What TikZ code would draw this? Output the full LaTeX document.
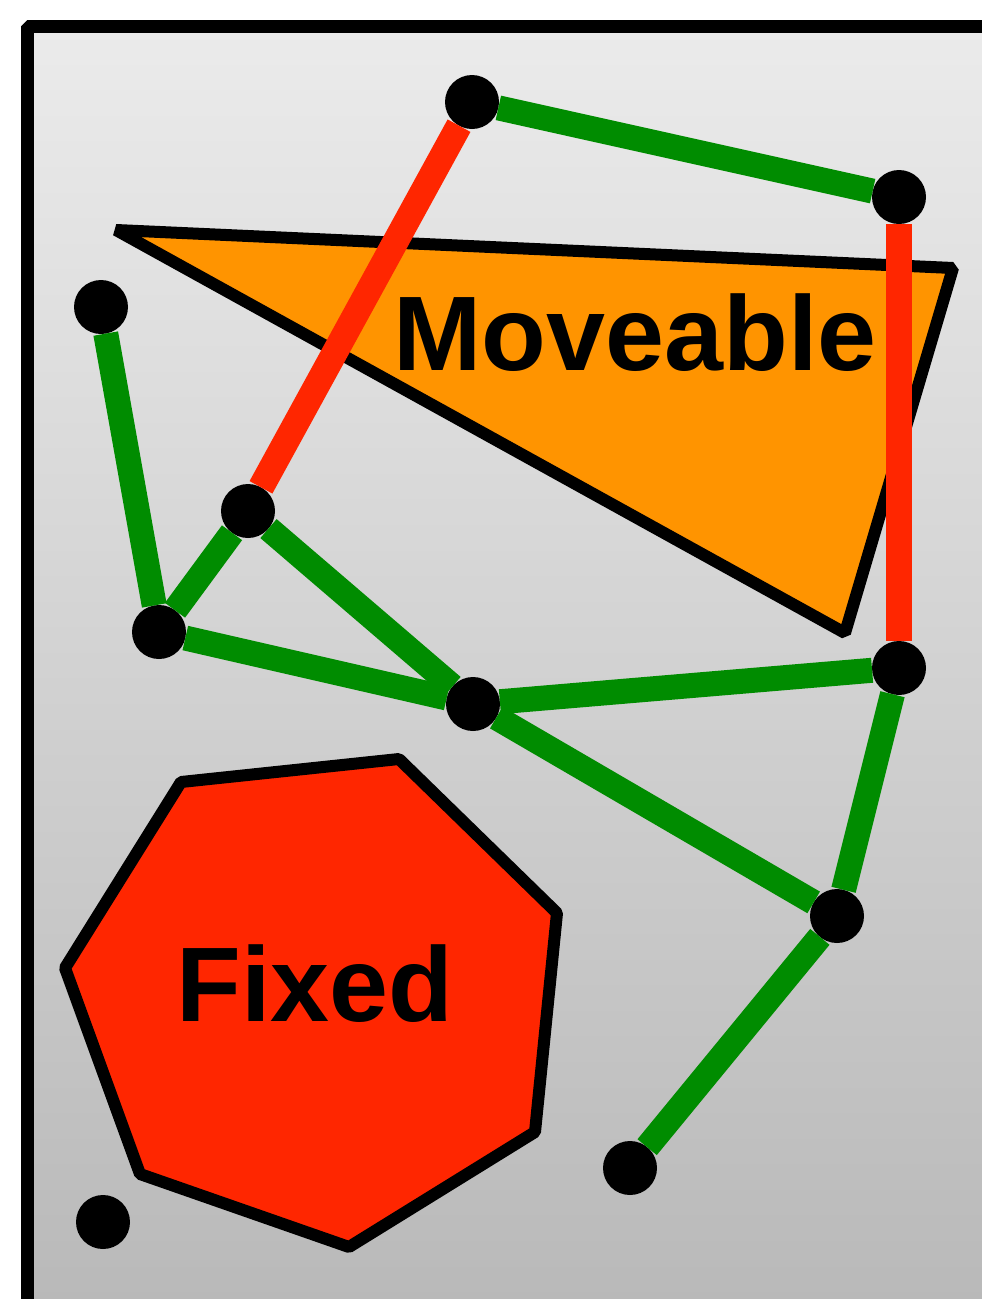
\documentclass[tikz,border=0pt]{standalone}
\usepackage{fontspec}
\setmainfont{Liberation Sans}
\definecolor{bgtop}{HTML}{EBEBEB}
\definecolor{bgbot}{HTML}{B8B8B8}
\definecolor{linkgreen}{HTML}{008C00}
\definecolor{linkred}{HTML}{FF2600}
\definecolor{movorange}{HTML}{FF9400}
\definecolor{fixred}{HTML}{FF2600}
\tikzset{
  joint/.style={circle, fill=black, minimum size=54pt, inner sep=0pt, outer sep=0pt},
  greenlink/.style={draw=linkgreen, line width=25pt, line cap=butt},
  redlink/.style={draw=linkred, line width=26pt, line cap=butt},
  body/.style={draw=black, line width=12pt, line join=bevel},
  bodylabel/.style={font=\fontsize{106}{110}\selectfont\bfseries, inner sep=0pt}
}
\begin{document}
\begin{tikzpicture}[x=1pt, y=-1pt]
\useasboundingbox (0,0) rectangle (982,1299);
\clip (0,0) rectangle (982,1299);
% frame with gradient
\shade[top color=bgtop, bottom color=bgbot] (27,26) rectangle (1010,1330);
\draw[line width=13pt, line join=bevel] (27,26) rectangle (1010,1330);
% moveable triangle
\draw[body, fill=movorange] (116,230) -- (953,268) -- (845,633) -- cycle;
\node[bodylabel] (mov) at (635,333) {Moveable};
% fixed heptagon
\draw[body, fill=fixred] (181,782) -- (399,759) -- (557,913) -- (535,1132) -- (349,1247) -- (140,1174) -- (65,968) -- cycle;
\node[bodylabel] (fix) at (315,984) {Fixed};
% joints
\node[joint] (A) at (472,102) {};
\node[joint] (B) at (899,197) {};
\node[joint] (C) at (101,307) {};
\node[joint] (D) at (248,511) {};
\node[joint] (E) at (159,632) {};
\node[joint] (F) at (473,704) {};
\node[joint] (G) at (899,668) {};
\node[joint] (H) at (837,916) {};
\node[joint] (I) at (630,1168) {};
\node[joint] (J) at (103,1222) {};
% links
\draw[greenlink] (A) -- (B);
\draw[greenlink] (C) -- (E);
\draw[greenlink] (E) -- (D);
\draw[greenlink] (D) -- (F);
\draw[greenlink] (E) -- (F);
\draw[greenlink] (F) -- (G);
\draw[greenlink] (F) -- (H);
\draw[greenlink] (G) -- (H);
\draw[greenlink] (H) -- (I);
\draw[redlink] (A) -- (D);
\draw[redlink] (B) -- (G);
\end{tikzpicture}
\end{document}
